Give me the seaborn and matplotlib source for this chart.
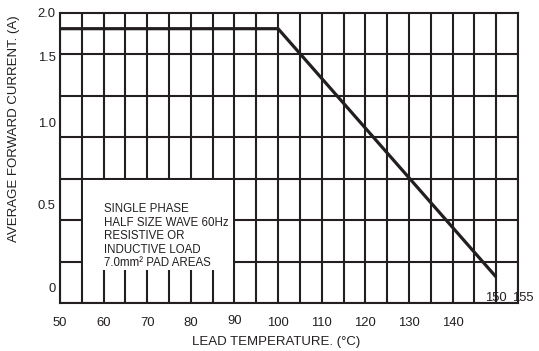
import matplotlib
matplotlib.use("Agg")
import matplotlib.pyplot as plt
import numpy as np
import pandas as pd
import seaborn as sns
from matplotlib.patches import Rectangle

# ---- data ----
lead_temp = [50, 100, 150]          # deg C
avg_current = [1.89, 1.89, 0.18]    # A

x_tick_values = [50, 60, 70, 80, 90, 100, 110, 120, 130, 140]
x_tick_labels = ["50", "60", "70", "80", "90", "100", "110", "120", "130", "140"]
y_tick_labels = ["2.0", "1.5", "1.0", "0.5", "0"]
# where the datasheet prints its y labels (they are not aligned with the grid)
y_label_pos = [2.0, 1.70, 1.245, 0.68, 0.11]

note_lines = ["SINGLE PHASE", "HALF SIZE WAVE 60Hz", "RESISTIVE OR",
              "INDUCTIVE LOAD", "7.0mm\u00b2 PAD AREAS"]

INK = "#231f20"

sns.set_theme(style="white")
plt.rcParams["font.family"] = ["Liberation Sans", "DejaVu Sans"]

fig = plt.figure(figsize=(5.39, 3.51), dpi=100)
ax = fig.add_axes([0.1113, 0.1362, 0.8497, 0.8276])

df = pd.DataFrame({"temp": lead_temp, "current": avg_current})
sns.lineplot(data=df, x="temp", y="current", ax=ax, color=INK,
             linewidth=2.3, zorder=5, solid_capstyle="butt")

ax.set_xlim(50, 155)
ax.set_ylim(0, 2.0)

# grid: every 5 deg, 7 equal rows
ax.set_xticks(np.arange(50, 156, 5), minor=True)
ax.set_yticks(np.linspace(0, 2.0, 8), minor=True)
ax.grid(which="minor", color=INK, linewidth=1.5)
ax.grid(which="major", visible=False)
ax.tick_params(which="minor", length=0)

# white note box over the grid
ax.add_patch(Rectangle((55.35, 0.228), 34.3, 0.623, facecolor="white",
                       edgecolor="none", zorder=3))
ax.text(60.2, 0.69, "\n".join(note_lines), fontsize=8.3, color=INK,
        va="top", ha="left", linespacing=1.17, zorder=6)

# y labels
ax.set_yticks(y_label_pos)
ax.set_yticklabels(y_tick_labels)
ax.tick_params(axis="y", which="major", length=0, pad=3, labelsize=9.4,
               labelcolor=INK)

# x labels drawn as text (one is nudged as in the datasheet)
ax.set_xticks([])
for v, lab in zip(x_tick_values, x_tick_labels):
    dy = -0.0615 if lab == "90" else -0.0675
    ax.text(v, dy, lab, transform=ax.get_xaxis_transform(), ha="center",
            va="center", fontsize=9.4, color=INK)
ax.text(150, 0.018, "150", transform=ax.get_xaxis_transform(), ha="center",
        va="center", fontsize=9.4, color=INK, zorder=7)
ax.text(156.2, 0.018, "155", transform=ax.get_xaxis_transform(), ha="center",
        va="center", fontsize=9.4, color=INK, zorder=7, clip_on=False)

for s in ax.spines.values():
    s.set_color(INK)
    s.set_linewidth(1.5)
    s.set_visible(True)

ax.set_xlabel("LEAD TEMPERATURE. (\u00b0C)", fontsize=9.5, color=INK)
ax.xaxis.set_label_coords(0.473, -0.112)
ax.set_ylabel("AVERAGE FORWARD CURRENT. (A)", fontsize=9.5, color=INK)
ax.yaxis.set_label_coords(-0.087, 0.601)

fig.savefig("out.png", dpi=100, facecolor="white")
